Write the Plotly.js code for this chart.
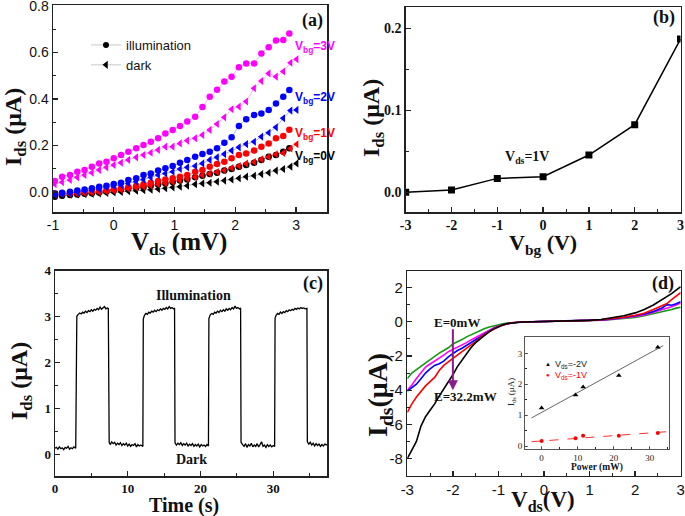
<!DOCTYPE html>
<html><head><meta charset="utf-8">
<script src="https://cdn.plot.ly/plotly-3.0.1.min.js"></script>
<style>html,body{margin:0;padding:0;background:#fff;}#chart{width:685px;height:516px;}</style>
</head><body><div id="chart"></div>
<script>
// ---------- Panel (a): Ids vs Vds (mV), illumination / dark for Vbg = 0..3 V ----------
const aXIllum = [-0.97,-0.85,-0.72,-0.60,-0.48,-0.36,-0.24,-0.12,0.00,0.12,0.24,0.37,0.49,0.61,0.73,0.85,0.97,1.09,1.21,1.34,1.46,1.58,1.70,1.82,1.94,2.06,2.18,2.31,2.43,2.55,2.67,2.79,2.89];
const aXDark  = [-0.97,-0.85,-0.72,-0.60,-0.48,-0.36,-0.24,-0.12,0.00,0.12,0.24,0.37,0.49,0.61,0.73,0.85,0.97,1.09,1.21,1.34,1.46,1.58,1.70,1.82,1.94,2.06,2.18,2.31,2.43,2.55,2.67,2.79,2.91,3.01];
const aIllum0V = [-0.020,-0.016,-0.013,-0.011,-0.008,-0.005,-0.002,0.002,0.006,0.010,0.014,0.018,0.022,0.027,0.032,0.037,0.043,0.049,0.054,0.063,0.070,0.077,0.083,0.092,0.099,0.109,0.116,0.126,0.138,0.152,0.159,0.173,0.188];
const aDark0V  = [-0.015,-0.013,-0.012,-0.011,-0.009,-0.008,-0.006,-0.004,-0.002,0.000,0.003,0.005,0.008,0.010,0.013,0.016,0.020,0.023,0.027,0.033,0.037,0.040,0.044,0.049,0.054,0.059,0.066,0.070,0.077,0.083,0.092,0.099,0.109,0.123];
const aIllum1V = [-0.006,-0.005,-0.004,-0.002,0.000,0.002,0.005,0.008,0.012,0.016,0.021,0.027,0.033,0.040,0.047,0.054,0.059,0.066,0.073,0.087,0.095,0.109,0.120,0.130,0.145,0.159,0.166,0.178,0.195,0.209,0.231,0.241,0.268];
const aDark1V  = [-0.012,-0.010,-0.008,-0.006,-0.004,-0.002,0.000,0.003,0.006,0.010,0.014,0.018,0.023,0.028,0.033,0.038,0.044,0.050,0.057,0.065,0.072,0.079,0.086,0.093,0.103,0.112,0.122,0.129,0.141,0.151,0.162,0.168,0.187,0.205];
const aIllum2V = [-0.006,-0.003,0.001,0.006,0.011,0.016,0.023,0.027,0.034,0.040,0.052,0.059,0.073,0.080,0.092,0.102,0.112,0.126,0.138,0.152,0.163,0.173,0.188,0.212,0.235,0.284,0.313,0.331,0.338,0.353,0.381,0.410,0.439];
const aDark2V  = [-0.013,-0.009,-0.006,-0.001,0.004,0.009,0.013,0.020,0.026,0.030,0.037,0.044,0.054,0.063,0.073,0.080,0.087,0.099,0.106,0.112,0.123,0.138,0.149,0.163,0.178,0.192,0.206,0.216,0.238,0.255,0.278,0.317,0.350,0.353];
const aIllum3V = [0.047,0.066,0.073,0.087,0.095,0.109,0.123,0.130,0.145,0.159,0.173,0.188,0.202,0.216,0.231,0.252,0.267,0.284,0.303,0.324,0.365,0.410,0.440,0.475,0.496,0.536,0.553,0.553,0.596,0.622,0.651,0.654,0.682];
const aDark3V  = [0.034,0.042,0.052,0.063,0.073,0.083,0.095,0.106,0.116,0.126,0.138,0.149,0.159,0.169,0.181,0.195,0.195,0.209,0.221,0.231,0.245,0.267,0.292,0.321,0.356,0.367,0.389,0.446,0.477,0.510,0.496,0.518,0.556,0.571];
const aVbgLabels = ['V<sub>bg</sub>=0V','V<sub>bg</sub>=1V','V<sub>bg</sub>=2V','V<sub>bg</sub>=3V'];
const aXTicks = [-1,0,1,2,3];
const aXTickText = ['-1','0','1','2','3'];
const aYTicks = [0,0.2,0.4,0.6,0.8];
const aYTickText = ['0.0','0.2','0.4','0.6','0.8'];

// ---------- Panel (b): Ids vs Vbg at Vds = 1 V ----------
const bVbg = [-3,-2,-1,0,1,2,3];
const bIds = [0.000,0.0028,0.017,0.019,0.0455,0.0825,0.187];
const bXTicks = [-3,-2,-1,0,1,2,3];
const bXTickText = ['-3','-2','-1','0','1','2','3'];
const bYTicks = [0,0.1,0.2];
const bYTickText = ['0.0','0.1','0.2'];

// ---------- Panel (c): time response ----------
const cTime = [
 0.0,0.2,0.4,0.6,0.8,1.0,1.2,1.4,1.6,1.8,2.0,2.2,2.4,2.6,2.85,
 2.92,3.0,3.2,3.4,3.6,3.8,4.0,4.2,4.4,4.6,4.8,5.0,5.2,5.4,5.6,5.8,6.0,6.2,6.4,6.6,6.8,7.0,7.2,7.33,
 7.38,7.45,7.6,7.8,8.0,8.2,8.4,8.6,8.8,9.0,9.2,9.4,9.6,9.8,10.0,10.2,10.4,10.6,10.8,11.0,11.2,11.4,11.6,11.8,12.08,
 12.14,12.3,12.5,12.7,12.9,13.1,13.3,13.5,13.7,13.9,14.1,14.3,14.5,14.7,14.9,15.1,15.3,15.5,15.7,15.9,16.1,16.3,16.44,
 16.5,16.7,16.9,17.1,17.3,17.5,17.7,17.9,18.1,18.3,18.5,18.7,18.9,19.1,19.3,19.5,19.7,19.9,20.1,20.3,20.5,20.7,20.9,21.1,
 21.16,21.35,21.55,21.75,21.95,22.15,22.35,22.55,22.75,22.95,23.15,23.35,23.55,23.75,23.95,24.15,24.35,24.55,24.75,24.95,25.15,25.35,25.52,
 25.58,25.8,26.0,26.2,26.4,26.6,26.8,27.0,27.2,27.4,27.6,27.8,28.0,28.2,28.4,28.6,28.8,29.0,29.2,29.4,29.6,29.8,30.0,30.2,
 30.26,30.4,30.6,30.8,31.0,31.2,31.4,31.6,31.8,32.0,32.2,32.4,32.6,32.8,33.0,33.2,33.4,33.6,33.8,34.0,34.2,34.4,34.64,
 34.7,34.9,35.1,35.3,35.5,35.7,35.9,36.1,36.3,36.5,36.7,36.9,37.1,37.4];
const cIds = [
 0.14,0.16,0.12,0.17,0.13,0.15,0.11,0.16,0.14,0.18,0.12,0.15,0.13,0.17,0.14,
 2.96,3.01,3.05,3.08,3.06,3.10,3.08,3.12,3.09,3.13,3.11,3.15,3.12,3.16,3.14,3.18,3.15,3.21,3.16,3.19,3.22,3.17,3.19,3.18,
 0.32,0.27,0.22,0.28,0.24,0.27,0.21,0.25,0.22,0.26,0.20,0.24,0.21,0.25,0.19,0.23,0.18,0.22,0.20,0.24,0.17,0.22,0.19,0.21,0.18,
 2.95,3.03,3.07,3.05,3.10,3.08,3.12,3.10,3.14,3.11,3.15,3.13,3.17,3.14,3.18,3.16,3.20,3.17,3.22,3.18,3.20,3.17,3.19,
 0.26,0.21,0.25,0.22,0.26,0.20,0.24,0.21,0.25,0.19,0.23,0.20,0.24,0.18,0.22,0.19,0.23,0.17,0.22,0.19,0.21,0.18,0.22,0.19,
 2.96,3.04,3.07,3.05,3.10,3.08,3.12,3.09,3.14,3.11,3.15,3.12,3.17,3.14,3.18,3.15,3.20,3.17,3.23,3.18,3.20,3.17,3.19,
 0.27,0.22,0.18,0.24,0.16,0.22,0.19,0.25,0.17,0.21,0.18,0.24,0.17,0.22,0.28,0.18,0.21,0.16,0.22,0.18,0.21,0.17,0.20,0.18,
 2.97,3.03,3.07,3.05,3.10,3.07,3.11,3.09,3.13,3.11,3.15,3.13,3.16,3.14,3.18,3.16,3.19,3.17,3.20,3.18,3.19,3.17,3.18,
 0.28,0.23,0.27,0.21,0.25,0.19,0.24,0.20,0.23,0.18,0.22,0.19,0.23,0.21];
const cXTicks = [0,10,20,30];
const cYTicks = [0,1,2,3,4];

// ---------- Panel (d): Ids vs Vds (V) for different light power ----------
const dVds = [-3,-2.9,-2.8,-2.7,-2.6,-2.5,-2.4,-2.3,-2.2,-2.1,-2.0,-1.9,-1.8,-1.7,-1.6,-1.5,-1.4,-1.3,-1.2,-1.1,-1.0,-0.9,-0.8,-0.7,-0.6,-0.5,-0.25,0,0.25,0.5,0.75,1.0,1.25,1.5,1.75,2.0,2.2,2.4,2.6,2.7,2.8,2.9,3.0];
const dGreen   = [-3.32,-3.00,-2.80,-2.60,-2.38,-2.20,-2.00,-1.83,-1.68,-1.52,-1.30,-1.18,-1.04,-0.88,-0.75,-0.63,-0.50,-0.39,-0.30,-0.23,-0.17,-0.12,-0.08,-0.05,-0.03,-0.01,0.00,0.01,0.02,0.03,0.04,0.06,0.09,0.13,0.19,0.26,0.35,0.46,0.58,0.65,0.72,0.80,0.85];
const dMagenta = [-4.00,-3.70,-3.32,-2.95,-2.65,-2.47,-2.30,-2.15,-1.95,-1.75,-1.62,-1.50,-1.38,-1.22,-1.06,-0.92,-0.74,-0.60,-0.47,-0.35,-0.24,-0.16,-0.10,-0.06,-0.03,-0.01,0.00,0.01,0.02,0.03,0.04,0.06,0.10,0.15,0.22,0.31,0.40,0.55,0.72,0.80,0.88,0.98,1.10];
const dBlue    = [-4.05,-3.85,-3.65,-3.33,-3.00,-2.75,-2.55,-2.45,-2.30,-2.05,-1.85,-1.68,-1.55,-1.38,-1.20,-1.05,-0.87,-0.70,-0.55,-0.42,-0.29,-0.19,-0.12,-0.07,-0.04,-0.02,0.00,0.01,0.02,0.03,0.05,0.07,0.11,0.16,0.24,0.35,0.45,0.60,0.82,1.00,0.97,1.05,1.18];
const dRed     = [-5.30,-4.80,-4.40,-4.05,-3.75,-3.50,-3.25,-2.85,-2.55,-2.35,-2.15,-1.95,-1.72,-1.52,-1.35,-1.18,-0.93,-0.74,-0.56,-0.42,-0.28,-0.18,-0.11,-0.06,-0.03,-0.01,0.00,0.01,0.02,0.03,0.05,0.08,0.12,0.18,0.27,0.38,0.50,0.72,0.95,1.07,1.30,1.50,1.70];
const dBlack   = [-8.00,-7.45,-7.00,-6.10,-5.55,-5.17,-4.80,-4.35,-3.95,-3.50,-3.10,-2.62,-2.25,-1.90,-1.50,-1.22,-1.00,-0.76,-0.57,-0.40,-0.27,-0.17,-0.10,-0.06,-0.03,-0.01,0.00,0.01,0.02,0.03,0.05,0.08,0.13,0.22,0.35,0.52,0.72,0.98,1.30,1.45,1.65,1.85,2.05];
const dXTicks = [-3,-2,-1,0,1,2,3];
const dXTickText = ['-3','-2','-1','0','1','2','3'];
const dYTicks = [-8,-6,-4,-2,0,2];
const dYTickText = ['-8','-6','-4','-2','0','2'];

// ---------- Inset of (d): Ids vs power ----------
const insPower = [0,9.4,11.5,21.4,32.2];
const insIdsM2V = [1.23,1.65,1.91,2.28,3.20];
const insIdsM1V = [0.16,0.25,0.33,0.33,0.42];
const insFitX2V = [-2.8,33.7];
const insFitY2V = [0.91,3.25];
const insFitX1V = [-2.8,35.3];
const insFitY1V = [0.14,0.47];
const insXTicks = [0,10,20,30];
const insYTicks = [0,1,2,3];

// ---------- styles ----------
const SANS = '"Liberation Sans", Arial, sans-serif';
const SERIF = '"Liberation Serif", "Times New Roman", serif';
const W = 685, H = 516;
const px = v => v / W;
const py = v => 1 - v / H;
const MAG = '#ff00ff', BLU = '#0000ff', RED = '#ff0000', BLK = '#000000', GRN = '#109a10';

const traces = [];
// legend entries for (a)
traces.push({x:[null], y:[null], xaxis:'x', yaxis:'y', type:'scatter', mode:'lines+markers', name:'illumination',
  marker:{symbol:'circle', size:6, color:BLK}, line:{color:'#c8c8c8', width:1}, showlegend:true});
traces.push({x:[null], y:[null], xaxis:'x', yaxis:'y', type:'scatter', mode:'lines+markers', name:'dark',
  marker:{symbol:'triangle-left', size:7, color:BLK}, line:{color:'#c8c8c8', width:1}, showlegend:true});

const aSets = [
  [aIllum0V, aDark0V, BLK, 'rgba(0,0,0,0.45)'],
  [aIllum1V, aDark1V, RED, 'rgba(255,0,0,0.45)'],
  [aIllum2V, aDark2V, BLU, 'rgba(0,0,255,0.40)'],
  [aIllum3V, aDark3V, MAG, 'rgba(255,0,255,0.40)']
];
aSets.forEach(s => {
  traces.push({x:aXDark, y:s[1], xaxis:'x', yaxis:'y', type:'scatter', mode:'lines+markers', showlegend:false,
    marker:{symbol:'triangle-left', size:7, color:s[2]}, line:{color:s[3], width:0.8}});
  traces.push({x:aXIllum, y:s[0], xaxis:'x', yaxis:'y', type:'scatter', mode:'lines+markers', showlegend:false,
    marker:{symbol:'circle', size:6.5, color:s[2]}, line:{color:s[3], width:0.8}});
});

// (b)
traces.push({x:bVbg, y:bIds, xaxis:'x2', yaxis:'y2', type:'scatter', mode:'lines+markers', showlegend:false,
  marker:{symbol:'square', size:7, color:BLK}, line:{color:BLK, width:1.5}});

// (c)
traces.push({x:cTime, y:cIds, xaxis:'x3', yaxis:'y3', type:'scatter', mode:'lines', showlegend:false,
  line:{color:BLK, width:1.3}});

// (d)
[[dGreen,GRN],[dMagenta,MAG],[dBlue,BLU],[dRed,RED],[dBlack,BLK]].forEach(s => {
  traces.push({x:dVds, y:s[0], xaxis:'x4', yaxis:'y4', type:'scatter', mode:'lines', showlegend:false,
    line:{color:s[1], width:1.6}});
});

// inset
traces.push({x:insFitX2V, y:insFitY2V, xaxis:'x5', yaxis:'y5', type:'scatter', mode:'lines', showlegend:false,
  line:{color:'#555', width:0.9}});
traces.push({x:insFitX1V, y:insFitY1V, xaxis:'x5', yaxis:'y5', type:'scatter', mode:'lines', showlegend:false,
  line:{color:'#ff3030', width:1, dash:'dash'}});
traces.push({x:insPower, y:insIdsM2V, xaxis:'x5', yaxis:'y5', type:'scatter', mode:'markers', showlegend:false,
  marker:{symbol:'triangle-up', size:5, color:BLK}});
traces.push({x:insPower, y:insIdsM1V, xaxis:'x5', yaxis:'y5', type:'scatter', mode:'markers', showlegend:false,
  marker:{symbol:'circle', size:4, color:RED}});

function axis(o) {
  const base = {showline:true, mirror:true, linecolor:'#222', linewidth:1.5, ticks:'inside', ticklen:5,
    tickwidth:1.3, tickcolor:'#222', showgrid:false, zeroline:false, fixedrange:true, tickmode:'array',
    ticklabeloverflow:'allow'};
  return Object.assign(base, o);
}
function minor(d, len) { return {ticks:'inside', ticklen:len || 3, dtick:d, tickcolor:'#222', tickwidth:1, showgrid:false}; }

const fA = {family:SANS, size:14, color:'#111'};
const fB = {family:SERIF, size:14, color:'#111', weight:'bold'};
const fC = {family:SERIF, size:13, color:'#111', weight:'bold'};
const fD = {family:SANS, size:15, color:'#111'};
const fI = {family:SERIF, size:9, color:'#222'};

const layout = {
  width:W, height:H, margin:{l:0,r:0,t:0,b:0}, paper_bgcolor:'#fff', plot_bgcolor:'rgba(0,0,0,0)',
  showlegend:true,
  legend:{x:px(86), y:py(30), xanchor:'left', yanchor:'top', bgcolor:'rgba(0,0,0,0)', font:{family:SANS, size:13, color:'#111'}, tracegroupgap:0},
  xaxis: axis({domain:[px(53),px(327)], range:[-1,3.51], anchor:'y', tickvals:aXTicks, ticktext:aXTickText, tickfont:fA, minor:minor(0.5)}),
  yaxis: axis({domain:[py(212),py(5)], range:[-0.086,0.804], anchor:'x', tickvals:aYTicks, ticktext:aYTickText, tickfont:fA, minor:minor(0.1)}),
  xaxis2: axis({domain:[px(405.7),px(680.5)], range:[-3,3], anchor:'y2', tickvals:bXTicks, ticktext:bXTickText, tickfont:fB, minor:minor(0.5)}),
  yaxis2: axis({domain:[py(212),py(7)], range:[-0.024,0.226], anchor:'x2', tickvals:bYTicks, ticktext:bYTickText, tickfont:fB, minor:minor(0.05)}),
  xaxis3: axis({domain:[px(55),px(327)], range:[0,37.4], anchor:'y3', tickvals:cXTicks, ticktext:cXTicks.map(String), tickfont:fC, minor:minor(5)}),
  yaxis3: axis({domain:[py(476),py(270.7)], range:[-0.463,4.0], anchor:'x3', tickvals:cYTicks, ticktext:cYTicks.map(String), tickfont:fC, minor:minor(0.5)}),
  xaxis4: axis({domain:[px(407.3),px(680.7)], range:[-3,3], anchor:'y4', tickvals:dXTicks, ticktext:dXTickText, tickfont:fD, minor:minor(0.5)}),
  yaxis4: axis({domain:[py(475.7),py(271)], range:[-9,2.97], anchor:'x4', tickvals:dYTicks, ticktext:dYTickText, tickfont:fD, minor:minor(1)}),
  xaxis5: axis({domain:[px(525),px(669)], range:[-4.6,35.3], anchor:'y5', tickvals:insXTicks, ticktext:insXTicks.map(String), tickfont:fI,
    linewidth:1, linecolor:'#555', ticklen:3, tickwidth:0.8, tickcolor:'#555', minor:minor(5,2)}),
  yaxis5: axis({domain:[py(449),py(337.3)], range:[-0.095,3.52], anchor:'x5', tickvals:insYTicks, ticktext:insYTicks.map(String), tickfont:fI,
    linewidth:1, linecolor:'#555', ticklen:3, tickwidth:0.8, tickcolor:'#555', minor:minor(0.5,2)}),
  annotations: [],
  shapes: [
    {type:'rect', xref:'paper', yref:'paper', x0:px(525), x1:px(669), y0:py(449), y1:py(337.3), fillcolor:'#fff', line:{width:0}, layer:'below'}
  ]
};

const A = layout.annotations;
function txt(t, x, y, font, extra) {
  A.push(Object.assign({text:t, x:x, y:y, xref:'paper', yref:'paper', showarrow:false, xanchor:'center', yanchor:'middle', font:font}, extra || {}));
}
const tf = (s) => ({family:SERIF, size:s, color:'#111', weight:'bold'});

// axis titles
txt('I<sub>ds</sub> (μA)', px(15), py(127), tf(24), {textangle:-90});
txt('V<sub>ds</sub> (mV)', px(179), py(244), tf(25));
txt('I<sub>ds</sub> (μA)', px(373), py(118), tf(24), {textangle:-90});
txt('V<sub>bg</sub> (V)', px(543), py(244), tf(22));
txt('I<sub>ds</sub> (μA)', px(21), py(381), tf(24), {textangle:-90});
txt('Time (s)', px(184), py(505), tf(20));
txt('I<sub>ds</sub>(μA)', px(379), py(395), tf(28), {textangle:-90});
txt('V<sub>ds</sub>(V)', px(543), py(501), tf(23));
// panel labels
txt('(a)', px(312.7), py(20.8), tf(18));
txt('(b)', px(664), py(18), tf(18));
txt('(c)', px(313), py(283.5), tf(18));
txt('(d)', px(663), py(283.3), tf(18));
// (a) Vbg labels
const aLabelY = [0.152, 0.249, 0.404, 0.624];
const aLabelC = [BLK, RED, BLU, MAG];
aVbgLabels.forEach((t, i) => {
  A.push({text:t, x:2.95, y:aLabelY[i], xref:'x', yref:'y', showarrow:false, xanchor:'left', yanchor:'middle',
    font:{family:SANS, size:12, color:aLabelC[i], weight:'bold'}});
});
// (b)
A.push({text:'V<sub>ds</sub>=1V', x:-0.35, y:0.042, xref:'x2', yref:'y2', showarrow:false, font:tf(14)});
// (c)
A.push({text:'Illumination', x:19.0, y:3.47, xref:'x3', yref:'y3', showarrow:false, font:tf(14)});
A.push({text:'Dark', x:18.7, y:-0.115, xref:'x3', yref:'y3', showarrow:false, font:tf(14)});
// (d)
A.push({text:'E=0mW', x:-1.92, y:-0.05, xref:'x4', yref:'y4', showarrow:false, font:tf(13)});
A.push({text:'E=32.2mW', x:-1.73, y:-4.35, xref:'x4', yref:'y4', showarrow:false, font:tf(13)});
A.push({text:'', x:-2, y:-4.0, xref:'x4', yref:'y4', ax:-2, ay:-0.35, axref:'x4', ayref:'y4', showarrow:true,
  arrowhead:2, arrowsize:1, arrowwidth:2, arrowcolor:'#8b1a8b'});
// inset titles and legend
txt('I<sub>ds</sub> (μA)', px(511), py(392), {family:SERIF, size:9, color:'#222'}, {textangle:-90});
txt('Power (mW)', px(597), py(467), tf(9.5));
txt('▲', px(548), py(364), {family:SANS, size:6, color:BLK});
txt('V<sub>ds</sub>=-2V', px(553), py(364), {family:SANS, size:9, color:'#222'}, {xanchor:'left'});
txt('●', px(548), py(375), {family:SANS, size:6, color:RED});
txt('V<sub>ds</sub>=-1V', px(553), py(375), {family:SANS, size:9, color:RED}, {xanchor:'left'});

Plotly.newPlot('chart', traces, layout, {displayModeBar:false, staticPlot:true});
</script></body></html>
